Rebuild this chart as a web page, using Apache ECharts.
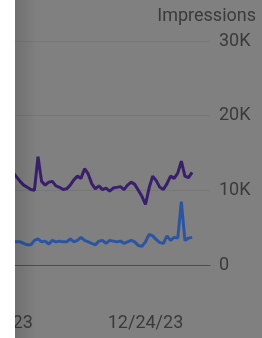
<!DOCTYPE html>
<html>
<head>
<meta charset="utf-8">
<script src="https://cdn.jsdelivr.net/npm/echarts@6/dist/echarts.min.js"></script>
<style>
  html, body { margin: 0; padding: 0; background: #808080; }
  #chart { width: 262px; height: 338px; }
</style>
</head>
<body>
<div id="chart"></div>
<script>
// days from 11/12/23, one point per day
var startDay = new Date(2023, 10, 12);
var dayCount = 61;

var xTickLabels = ['11/12/23', '12/24/23'];
var yTickLabels = ['0', '10K', '20K', '30K'];

// impressions (purple), first days are off the visible crop
var impressions = [null, null, null, null, null,
	12400, 11800, 11200, 10700, 10400, 10100, 10000, 14500, 11200, 10700,
	11100, 11200, 10600, 10400, 10100, 10200, 10700, 11400, 11900, 11600,
	12900, 12200, 10900, 10200, 10600, 10100, 10300, 9900, 10300, 10400,
	10500, 10100, 10700, 11100, 10800, 10000, 9200, 8100, 10300, 11900,
	11300, 10400, 10100, 10900, 11900, 11600, 12300, 13900, 11900, 11700,
	12400];

// second series (blue)
var clicks = [null, null, null, null, null,
	3200, 3100, 3100, 2900, 2700, 2700, 3300, 3500, 3100, 3200,
	2800, 3300, 3100, 3200, 3100, 3100, 3500, 3100, 3300, 3700,
	3300, 3100, 2900, 2700, 3200, 3300, 2900, 3300, 3200, 3100,
	3200, 2900, 3100, 3300, 3100, 2600, 2500, 3100, 4100, 3900,
	3400, 3000, 2900, 3900, 3300, 3700, 3600, 8500, 3300, 3600,
	3700];

var days = [];
for (var i = 0; i < dayCount; i++) {
	var d = new Date(startDay.getTime() + i * 24 * 3600 * 1000);
	var yy = String(d.getFullYear()).slice(2);
	days.push((d.getMonth() + 1) + '/' + d.getDate() + '/' + yy);
}

var chart = echarts.init(document.getElementById('chart'));
chart.setOption({
	backgroundColor: '#808080',
	animation: false,
	title: {
		text: 'Impressions',
		right: 1,
		top: 2,
		textStyle: {
			fontFamily: 'Roboto',
			fontSize: 18,
			fontWeight: 'normal',
			color: '#3a3a3a'
		}
	},
	grid: {
		left: -5,
		right: 52,
		top: 41,
		bottom: 73,
		outerBoundsMode: 'none'
	},
	xAxis: {
		type: 'category',
		boundaryGap: false,
		data: days,
		axisLine: { show: true, lineStyle: { color: '#4e4e4e', width: 1.2 } },
		axisTick: { show: false },
		axisLabel: {
			interval: function (index, value) {
				return xTickLabels.indexOf(value) >= 0;
			},
			margin: 49,
			fontFamily: 'Roboto',
			fontSize: 18,
			color: '#3a3a3a'
		}
	},
	yAxis: {
		type: 'value',
		position: 'right',
		min: 0,
		max: 30000,
		interval: 10000,
		axisLine: { show: false },
		axisTick: { show: false },
		splitLine: { lineStyle: { color: 'rgba(0,0,0,0.07)', width: 1 } },
		axisLabel: {
			margin: 9,
			fontFamily: 'Roboto',
			fontSize: 18,
			color: '#3a3a3a',
			formatter: function (v) {
				return yTickLabels[v / 10000];
			}
		}
	},
	series: [
		{
			name: 'Impressions',
			type: 'line',
			data: impressions,
			symbol: 'none',
			lineStyle: { color: '#391e6c', width: 3 },
			z: 3
		},
		{
			name: 'Clicks',
			type: 'line',
			data: clicks,
			symbol: 'none',
			lineStyle: { color: '#2b55a3', width: 3 },
			z: 2
		}
	],
	graphic: [
		{
			type: 'rect',
			z: 100,
			shape: { x: 15, y: 0, width: 22, height: 338 },
			style: {
				fill: new echarts.graphic.LinearGradient(0, 0, 1, 0, [
					{ offset: 0, color: 'rgba(0,0,0,0.13)' },
					{ offset: 1, color: 'rgba(0,0,0,0)' }
				])
			}
		},
		{
			type: 'rect',
			z: 101,
			shape: { x: 0, y: 0, width: 15, height: 338 },
			style: { fill: '#ffffff' }
		}
	]
});
</script>
</body>
</html>
